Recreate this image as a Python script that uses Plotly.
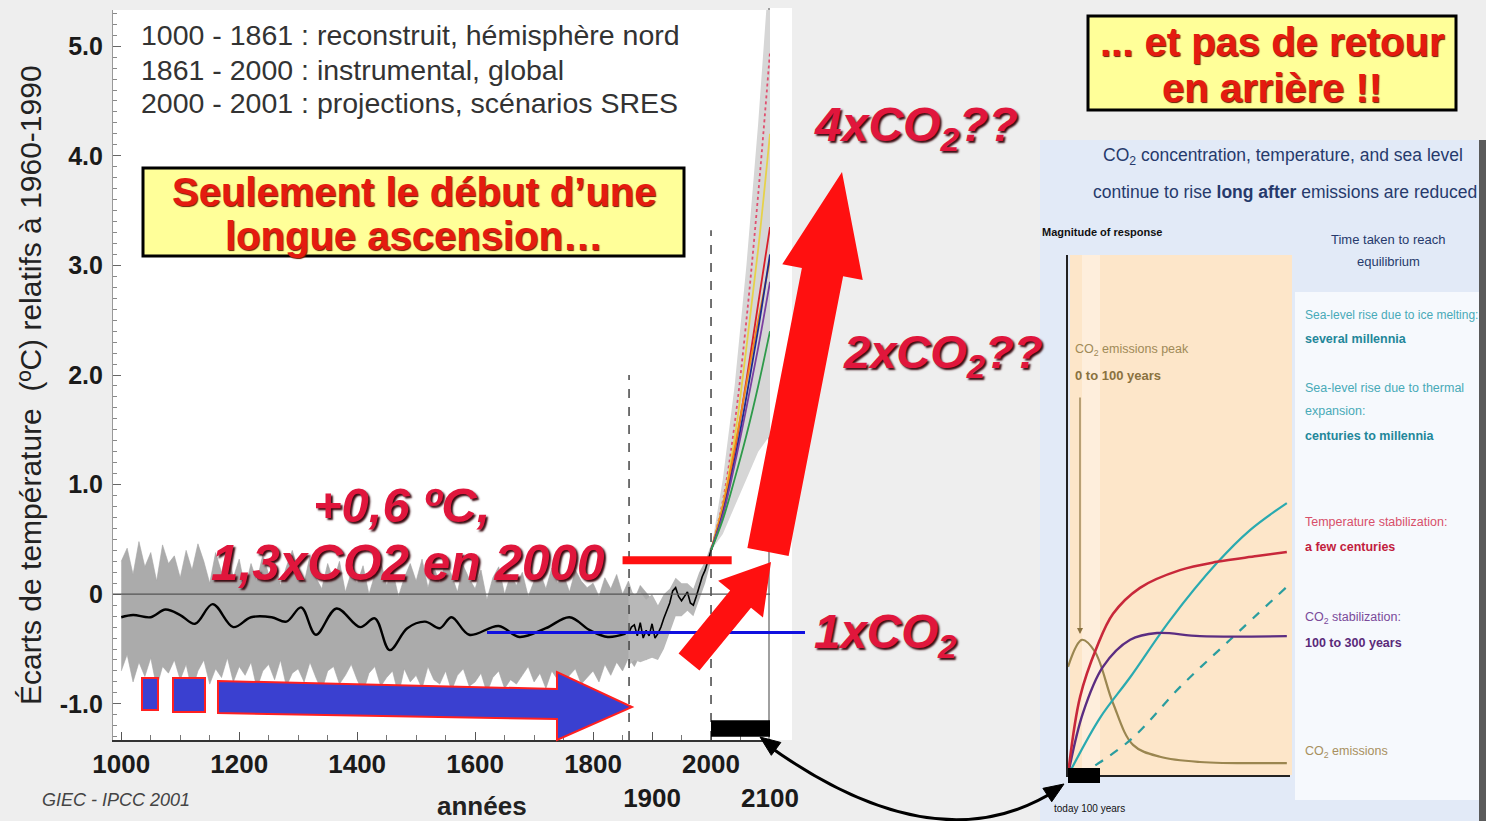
import math
import plotly.graph_objects as go

W, H = 1486, 821


def px(x):
    return x / W


def py(y):
    return 1 - y / H


SANS = "Liberation Sans, Arial, sans-serif"
NARROW = "Liberation Sans, Arial, sans-serif"
RED_TXT = "#e0163c"

# ---------------- data : main chart ----------------
band_years = list(range(1000, 1901, 10))
band_upper = [0.30, 0.42, 0.18, 0.48, 0.25, 0.38, 0.12, 0.45, 0.28, 0.35,
              0.15, 0.40, 0.22, 0.46, 0.30, 0.10, 0.38, 0.20, 0.42, 0.15,
              0.32, 0.05, 0.28, 0.12, 0.36, 0.18, 0.30, 0.08, 0.25, 0.40,
              0.22, 0.10, 0.35, 0.15, 0.05, 0.28, 0.12, 0.30, 0.02, 0.20,
              0.10, 0.26, 0.00, 0.18, 0.30, 0.08, 0.22, -0.02, 0.15, 0.28,
              0.12, 0.32, 0.06, 0.25, 0.10, 0.30, 0.18, 0.02, 0.26, 0.14,
              0.05, 0.22, -0.05, 0.15, 0.25, 0.00, 0.18, 0.08, 0.20, -0.02,
              0.12, 0.20, 0.05, 0.24, 0.10, 0.18, 0.02, 0.22, 0.12, 0.06,
              0.10, -0.02, 0.15, 0.05, 0.18, 0.00, 0.12, -0.05, 0.08, 0.02,
              -0.05]
band_lower = [-0.70, -0.55, -0.80, -0.62, -0.75, -0.58, -0.85, -0.66, -0.72, -0.60,
              -0.78, -0.64, -0.88, -0.70, -0.60, -0.82, -0.68, -0.76, -0.58, -0.80,
              -0.66, -0.74, -0.62, -0.86, -0.70, -0.64, -0.78, -0.60, -0.84, -0.72,
              -0.68, -0.80, -0.62, -0.76, -0.88, -0.70, -0.66, -0.82, -0.74, -0.64,
              -0.78, -0.90, -0.72, -0.66, -0.84, -0.76, -0.70, -0.92, -0.68, -0.80,
              -0.74, -0.86, -0.66, -0.78, -0.82, -0.70, -0.88, -0.74, -0.68, -0.84,
              -0.80, -0.72, -0.90, -0.76, -0.70, -0.86, -0.78, -0.82, -0.74, -0.66,
              -0.80, -0.72, -0.86, -0.70, -0.78, -0.84, -0.74, -0.68, -0.82, -0.76,
              -0.70, -0.80, -0.64, -0.74, -0.62, -0.70, -0.58, -0.66, -0.55, -0.60,
              -0.50]

inst_band_years = [1860, 1870, 1880, 1890, 1900, 1910, 1920, 1930, 1940, 1950,
                   1960, 1970, 1980, 1990, 2000]
inst_band_upper = [0.05, 0.00, 0.02, -0.05, 0.00, -0.10, 0.00, 0.05, 0.15, 0.10,
                   0.10, 0.05, 0.20, 0.30, 0.45]
inst_band_lower = [-0.65, -0.60, -0.62, -0.60, -0.58, -0.60, -0.50, -0.35, -0.20, -0.20,
                   -0.15, -0.20, -0.05, 0.10, 0.30]

recon_years = [1000, 1020, 1050, 1075, 1100, 1125, 1155, 1190, 1220, 1255,
               1280, 1305, 1330, 1365, 1405, 1430, 1455, 1485, 1515, 1540,
               1560, 1590, 1640, 1675, 1720, 1760, 1795, 1825, 1855]
recon_values = [-0.21, -0.19, -0.21, -0.14, -0.19, -0.27, -0.09, -0.30, -0.21, -0.21,
                -0.25, -0.12, -0.37, -0.13, -0.30, -0.22, -0.51, -0.31, -0.25, -0.31,
                -0.21, -0.37, -0.29, -0.39, -0.31, -0.21, -0.33, -0.39, -0.36]

inst_years = [1860, 1865, 1870, 1875, 1880, 1885, 1890, 1895, 1900, 1905,
              1910, 1915, 1920, 1925, 1930, 1935, 1940, 1945, 1950, 1955,
              1960, 1965, 1970, 1975, 1980, 1985, 1990, 1995, 2000]
inst_values = [-0.36, -0.30, -0.28, -0.38, -0.26, -0.40, -0.33, -0.38, -0.27, -0.40,
               -0.36, -0.30, -0.22, -0.15, -0.08, 0.03, 0.06, -0.02, -0.06, -0.02,
               0.02, -0.08, -0.10, -0.02, 0.08, 0.16, 0.22, 0.30, 0.40]

proj_years = [2000, 2020, 2040, 2060, 2080, 2100]
env_upper = [0.40, 1.05, 1.90, 3.00, 4.30, 5.80]
env_lower = [0.40, 0.55, 0.80, 1.05, 1.30, 1.45]
sres_names = ["A1FI", "A1B", "A2", "A1T", "B2", "IS92a", "B1"]
sres_values = [
    [0.40, 0.85, 1.55, 2.50, 3.65, 4.95],
    [0.40, 0.82, 1.42, 2.25, 3.15, 4.20],
    [0.40, 0.78, 1.30, 1.95, 2.65, 3.35],
    [0.40, 0.80, 1.33, 1.92, 2.50, 3.05],
    [0.40, 0.74, 1.22, 1.80, 2.42, 3.10],
    [0.40, 0.72, 1.18, 1.70, 2.25, 2.85],
    [0.40, 0.68, 1.05, 1.45, 1.90, 2.40],
]
sres_colors = ["#e05070", "#e6d24a", "#d81e2a", "#f08a1c", "#1e2a8c", "#7b3fa0", "#2e9a4a"]
sres_dash = ["dot", "solid", "solid", "solid", "solid", "solid", "solid"]

x_tickvals = [1000, 1200, 1400, 1600, 1800, 1900, 2000, 2100]
x_ticktext = ["1000", "1200", "1400", "1600", "1800", "<br>1900", "2000", "<br>2100"]
y_tickvals = [-1, 0, 1, 2, 3, 4, 5]
y_ticktext = ["-1.0", "0", "1.0", "2.0", "3.0", "4.0", "5.0"]

# ---------------- data : inset (schematic response) ----------------
resp_emis_x = [0, 44, 85, 142, 205, 290, 416, 690]
resp_emis_y = [0.208, 0.260, 0.237, 0.138, 0.058, 0.035, 0.025, 0.023]
resp_temp_x = [0, 38, 91, 142, 227, 353, 470, 596, 690]
resp_temp_y = [0.0, 0.150, 0.246, 0.310, 0.360, 0.394, 0.410, 0.421, 0.429]
resp_co2_x = [0, 47, 110, 196, 281, 416, 690]
resp_co2_y = [0.0, 0.119, 0.208, 0.260, 0.273, 0.267, 0.267]
resp_therm_x = [6, 101, 196, 322, 470, 574, 690]
resp_therm_y = [0.006, 0.110, 0.188, 0.298, 0.408, 0.471, 0.523]
resp_ice_x = [38, 196, 353, 511, 690]
resp_ice_y = [0.0, 0.067, 0.169, 0.260, 0.362]

fig = go.Figure()

# gray reconstruction band
fig.add_trace(go.Scatter(x=band_years + band_years[::-1], y=band_upper + band_lower[::-1],
                         fill="toself", fillcolor="#ababab", line=dict(width=0.6, color="#a5a5a5"),
                         mode="lines", hoverinfo="skip", showlegend=False))
fig.add_trace(go.Scatter(x=inst_band_years + inst_band_years[::-1],
                         y=inst_band_upper + inst_band_lower[::-1],
                         fill="toself", fillcolor="#b8b8b8", line=dict(width=0),
                         mode="lines", hoverinfo="skip", showlegend=False))
fig.add_trace(go.Scatter(x=proj_years + proj_years[::-1], y=env_upper + env_lower[::-1],
                         fill="toself", fillcolor="#d6d6d6", line=dict(width=0),
                         mode="lines", hoverinfo="skip", showlegend=False))
for name, vals, col, dsh in zip(sres_names, sres_values, sres_colors, sres_dash):
    fig.add_trace(go.Scatter(x=proj_years, y=vals, mode="lines", name=name,
                             line=dict(color=col, width=1.8, dash=dsh, shape="spline"),
                             showlegend=False))
fig.add_trace(go.Scatter(x=recon_years, y=recon_values, mode="lines",
                         line=dict(color="black", width=2.4, shape="spline"), showlegend=False))
fig.add_trace(go.Scatter(x=inst_years, y=inst_values, mode="lines",
                         line=dict(color="black", width=1.6), showlegend=False))

# inset curves
inset_kw = dict(xaxis="x2", yaxis="y2", mode="lines", showlegend=False)
fig.add_trace(go.Scatter(x=resp_emis_x, y=resp_emis_y, line=dict(color="#9a8650", width=2.2, shape="spline"), **inset_kw))
fig.add_trace(go.Scatter(x=resp_ice_x, y=resp_ice_y, line=dict(color="#2a9d9f", width=2.2, dash="dash", shape="spline"), **inset_kw))
fig.add_trace(go.Scatter(x=resp_therm_x, y=resp_therm_y, line=dict(color="#2aaab0", width=2.2, shape="spline"), **inset_kw))
fig.add_trace(go.Scatter(x=resp_co2_x, y=resp_co2_y, line=dict(color="#5b2d82", width=2.4, shape="spline"), **inset_kw))
fig.add_trace(go.Scatter(x=resp_temp_x, y=resp_temp_y, line=dict(color="#c8283a", width=2.6, shape="spline"), **inset_kw))

shapes = []


def prect(x0, y0, x1, y1, fill, line_color=None, lw=0, layer="below"):
    shapes.append(dict(type="rect", xref="paper", yref="paper",
                       x0=px(x0), x1=px(x1), y0=py(y1), y1=py(y0),
                       fillcolor=fill, line=dict(color=line_color or fill, width=lw), layer=layer))


def ppath(points, fill, line_color, lw, layer="above", closed=True):
    d = "M " + " L ".join(f"{px(a):.5f},{py(b):.5f}" for a, b in points)
    if closed:
        d += " Z"
    shapes.append(dict(type="path", xref="paper", yref="paper", path=d,
                       fillcolor=fill, line=dict(color=line_color, width=lw), layer=layer))


def arrow(tail, tip, sw, hw, hl, fill, line_color, lw=0):
    dx, dy = tip[0] - tail[0], tip[1] - tail[1]
    L = math.hypot(dx, dy)
    ux, uy = dx / L, dy / L
    nx, ny = -uy, ux
    bx, by = tip[0] - ux * hl, tip[1] - uy * hl
    pts = [(tail[0] + nx * sw / 2, tail[1] + ny * sw / 2),
           (bx + nx * sw / 2, by + ny * sw / 2),
           (bx + nx * hw / 2, by + ny * hw / 2),
           tip,
           (bx - nx * hw / 2, by - ny * hw / 2),
           (bx - nx * sw / 2, by - ny * sw / 2),
           (tail[0] - nx * sw / 2, tail[1] - ny * sw / 2)]
    ppath(pts, fill, line_color, lw)


def head(tip, frm, length, width):
    dx, dy = tip[0] - frm[0], tip[1] - frm[1]
    L = math.hypot(dx, dy)
    ux, uy = dx / L, dy / L
    nx, ny = -uy, ux
    bx, by = tip[0] - ux * length, tip[1] - uy * length
    ppath([tip, (bx + nx * width / 2, by + ny * width / 2), (bx - nx * width / 2, by - ny * width / 2)],
          "black", "black", 1)


# backgrounds
prect(770, 8, 792, 740, "white")
prect(1040, 140, 1486, 821, "#e2eaf7")
prect(1295, 292, 1480, 800, "#f6f9fd")
prect(1070, 255, 1292, 775, "#fde6c9")
prect(1082, 255, 1100, 775, "#feeedc")
prect(1479, 140, 1486, 821, "#5a5a5a")

# main chart reference lines
shapes.append(dict(type="line", xref="x", yref="paper", x0=2100, x1=2100, y0=py(740), y1=py(8),
                   line=dict(color="#a0a0a0", width=4), layer="below"))
shapes.append(dict(type="line", xref="x", yref="y", x0=1861, x1=1861, y0=-1.33, y1=2.0,
                   line=dict(color="#444", width=1.5, dash="dash"), layer="above"))
shapes.append(dict(type="line", xref="x", yref="y", x0=2000, x1=2000, y0=-1.33, y1=3.32,
                   line=dict(color="#444", width=1.5, dash="dash"), layer="above"))
shapes.append(dict(type="line", xref="x", yref="y", x0=986, x1=2100, y0=0, y1=0,
                   line=dict(color="#555", width=1.2), layer="above"))
shapes.append(dict(type="rect", xref="x", yref="y", x0=2000, x1=2100, y0=-1.30, y1=-1.15,
                   fillcolor="black", line=dict(width=0), layer="above"))
shapes.append(dict(type="line", xref="x", yref="y", x0=1850, x1=2035, y0=0.31, y1=0.31,
                   line=dict(color="#ff1010", width=8), layer="above"))
shapes.append(dict(type="line", xref="paper", yref="y", x0=px(487), x1=px(805), y0=-0.35, y1=-0.35,
                   line=dict(color="#1010e0", width=3), layer="above"))

# blue arrow (with red outline)
prect(142, 678, 158, 710, "#3a40d0", "#ff2020", 2, layer="above")
prect(173, 678, 205, 712, "#3a40d0", "#ff2020", 2, layer="above")
ppath([(218, 681), (557, 689), (557, 672), (632, 707), (557, 740), (557, 719), (218, 713)],
      "#3a40d0", "#ff2020", 2)

# red arrows
arrow((689, 662), (771, 562), 27, 58, 48, "#ff1010", "#ff1010")
arrow((768, 552), (842, 172), 42, 82, 102, "#ff1010", "#ff1010")

# yellow boxes
prect(143, 168, 684, 256, "#ffff99", "black", 3, layer="above")
prect(1088, 16, 1456, 110, "#ffff99", "black", 3, layer="above")

# curved double arrow
p0, c, p2 = (766, 744), (937, 868), (1058, 789)
shapes.append(dict(type="path", xref="paper", yref="paper",
                   path=f"M {px(p0[0]):.5f},{py(p0[1]):.5f} Q {px(c[0]):.5f},{py(c[1]):.5f} {px(p2[0]):.5f},{py(p2[1]):.5f}",
                   line=dict(color="black", width=3), layer="above"))
head((760, 737), c, 20, 16)
head((1064, 784), c, 20, 16)

# inset axes extras
prect(1068, 768, 1100, 783, "black", layer="above")

fig.update_layout(shapes=shapes)

# ---------------- annotations ----------------
ann = []


def txt(s, x, y, size, color="#222", family=SANS, weight="normal", style="normal",
        xanchor="left", shadow=None, angle=0):
    f = dict(family=family, size=size, color=color, weight=weight, style=style)
    if shadow:
        f["shadow"] = shadow
    ann.append(dict(text=s, x=px(x), y=py(y), xref="paper", yref="paper", showarrow=False,
                    xanchor=xanchor, yanchor="middle", font=f, textangle=angle))


txt("1000 - 1861 : reconstruit, hémisphère nord", 139, 35, 28.5, "#333")
txt("1861 - 2000 : instrumental, global", 139, 70, 28.5, "#333")
txt("2000 - 2001 : projections, scénarios SRES", 139, 103, 28.5, "#333")

SH_BOX = "1px 1px 1px #6a1a00"
txt("Seulement le début d’une", 414, 192, 40, "#e41b10", weight="bold", xanchor="center", shadow=SH_BOX)
txt("longue ascension…", 414, 236, 40, "#e41b10", weight="bold", xanchor="center", shadow=SH_BOX)
txt("... et pas de retour", 1272, 42, 40, "#e41b10", weight="bold", xanchor="center", shadow=SH_BOX)
txt("en arrière !!", 1272, 88, 40, "#e41b10", weight="bold", xanchor="center", shadow=SH_BOX)

SH = "2px 2px 2px #3a0a10"
txt("+0,6 ºC,", 401, 505, 49, RED_TXT, weight="bold", style="italic", xanchor="center", shadow=SH)
txt("1,3xCO2 en 2000", 408, 562, 49.5, RED_TXT, weight="bold", style="italic", xanchor="center", shadow=SH)
txt("4xCO<sub>2</sub>??", 812, 128, 48, RED_TXT, weight="bold", style="italic", shadow=SH)
txt("2xCO<sub>2</sub>??", 841, 355, 47, RED_TXT, weight="bold", style="italic", shadow=SH)
txt("1xCO<sub>2</sub>", 812, 635, 47.5, RED_TXT, weight="bold", style="italic", shadow=SH)

txt("Écarts de température  (ºC) relatifs à 1960-1990", 30, 385, 30, "#222", xanchor="center", angle=-90)
txt("années", 482, 806, 26, "#222", weight="bold", xanchor="center")
txt("GIEC - IPCC 2001", 40, 800, 18, "#444", style="italic")

# inset texts
NAVY = "#263a6c"
txt("CO<sub>2</sub> concentration, temperature, and sea level", 1283, 157, 17.5, NAVY, NARROW, xanchor="center")
txt("continue to rise <b>long after</b> emissions are reduced", 1285, 192, 17.5, NAVY, NARROW, xanchor="center")
txt("Magnitude of response", 1040, 232, 11, "#111", NARROW, weight="bold")
txt("Time taken to reach", 1388, 240, 13, NAVY, NARROW, xanchor="center")
txt("equilibrium", 1388, 262, 13, NAVY, NARROW, xanchor="center")
txt("Sea-level rise due to ice melting:", 1303, 315, 12, "#48aab8", NARROW)
txt("several millennia", 1303, 339, 12.5, "#23879a", NARROW, weight="bold")
txt("Sea-level rise due to thermal", 1303, 388, 12.5, "#48aab8", NARROW)
txt("expansion:", 1303, 411, 12.5, "#48aab8", NARROW)
txt("centuries to millennia", 1303, 436, 12.5, "#23879a", NARROW, weight="bold")
txt("Temperature stabilization:", 1303, 522, 12.5, "#d8506a", NARROW)
txt("a few centuries", 1303, 547, 12.5, "#c21d3e", NARROW, weight="bold")
txt("CO<sub>2</sub> stabilization:", 1303, 618, 12.5, "#7a4a9a", NARROW)
txt("100 to 300 years", 1303, 643, 12.5, "#5a2a7a", NARROW, weight="bold")
txt("CO<sub>2</sub> emissions", 1303, 752, 12.5, "#a89060", NARROW)
txt("CO<sub>2</sub> emissions peak", 1073, 350, 12.5, "#a08a58", NARROW)
txt("0 to 100 years", 1073, 375, 13, "#8a7240", NARROW, weight="bold")
txt("today 100 years", 1052, 808, 10, "#111", NARROW)

# arrow to emissions peak
ann.append(dict(text="", x=px(1080), y=py(634), xref="paper", yref="paper", showarrow=True,
                ax=0, ay=-238, arrowhead=2, arrowsize=1, arrowwidth=1.2, arrowcolor="#8a7240"))

fig.update_layout(annotations=ann)

fig.update_layout(
    width=W, height=H,
    margin=dict(l=0, r=0, t=0, b=0),
    paper_bgcolor="#eeeeee",
    plot_bgcolor="white",
    showlegend=False,
    xaxis=dict(domain=[px(113), px(770)], range=[986, 2100], tickvals=x_tickvals, ticktext=x_ticktext,
               tickangle=0, automargin=False,
               ticks="inside", ticklen=8, tickcolor="#555", showline=True, linecolor="#333", linewidth=1.5,
               minor=dict(dtick=50, ticks="inside", ticklen=5, tickcolor="#777"),
               showgrid=False, zeroline=False, anchor="y",
               tickfont=dict(family=SANS, size=26, color="#1a1a1a", weight="bold")),
    yaxis=dict(domain=[py(740), py(10)], range=[-1.33, 5.33], tickvals=y_tickvals, ticktext=y_ticktext,
               automargin=False,
               ticks="inside", ticklen=8, tickcolor="#666", showline=True, linecolor="#999", linewidth=1.2,
               minor=dict(dtick=0.1, ticks="inside", ticklen=4, tickcolor="#888"),
               showgrid=False, zeroline=False, anchor="x", ticklabelstandoff=4,
               tickfont=dict(family=SANS, size=25, color="#1a1a1a", weight="bold")),
    xaxis2=dict(domain=[px(1068), px(1290)], range=[0, 700], showticklabels=False, ticks="",
                showline=True, linecolor="#222", linewidth=2, showgrid=False, zeroline=False, anchor="y2"),
    yaxis2=dict(domain=[py(775), py(255)], range=[0, 1], showticklabels=False, ticks="",
                showline=True, linecolor="#222", linewidth=2, showgrid=False, zeroline=False, anchor="x2"),
)

fig.write_html("out.html", config={"displayModeBar": False},
               post_script="document.body.style.margin='0px';document.body.style.overflow='hidden';")
